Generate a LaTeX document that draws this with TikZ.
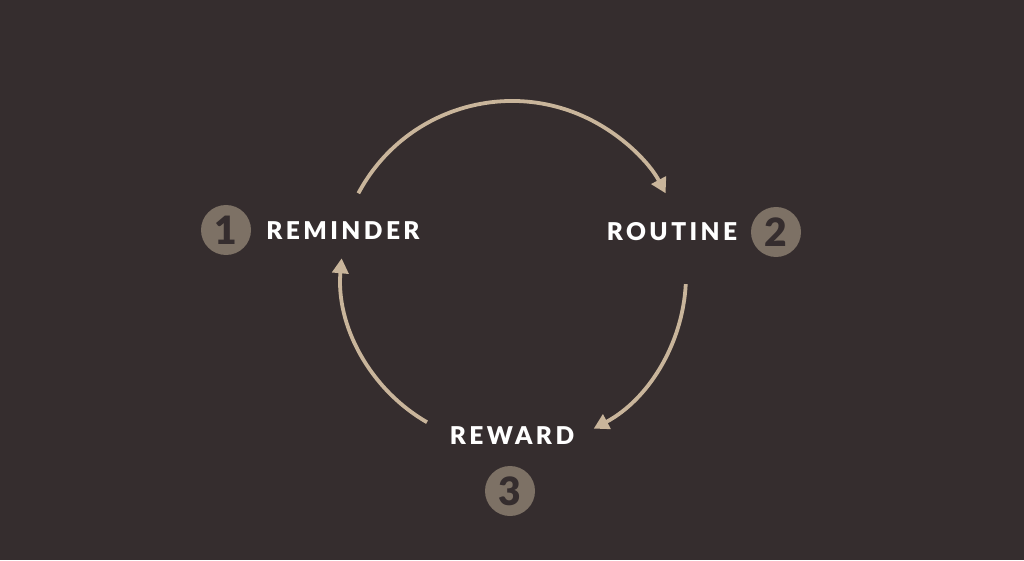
\documentclass[tikz,border=0pt]{standalone}
\usepackage{fontspec}
\setmainfont{Lato}
\newfontfamily\labfont[LetterSpace=14]{Lato Black}
\newfontfamily\numfont{Lato Black}
\usetikzlibrary{arrows.meta}
\definecolor{bg}{HTML}{352D2E}
\definecolor{arccol}{HTML}{C9B59B}
\definecolor{badge}{HTML}{7D7165}
\begin{document}
\begin{tikzpicture}[x=1pt,y=1pt,
  cyc/.style={draw=arccol,line width=3.8pt,-{Triangle[length=15pt,width=16pt]}},
  lab/.style={text=white,font=\labfont\fontsize{24.5}{24.5}\selectfont,inner sep=0pt},
  num/.style={circle,fill=badge,minimum size=50pt,inner sep=0pt,text=bg,font=\numfont\fontsize{39}{39}\selectfont}]
\fill[bg] (0,0) rectangle (1024,560);
\useasboundingbox (0,0) rectangle (1024,560);
\coordinate (c) at (512,285);
\node[lab] (reminder) at (343,329) {REMINDER};
\node[lab] (routine) at (672,328) {ROUTINE};
\node[lab] (reward) at (512,124) {REWARD};
\node[num] (n1) at (226,330) {1};
\node[num] (n2) at (776,328) {2};
\node[num] (n3) at (510,69) {3};
\coordinate (a1) at ([shift={(152:174pt)}]c);
\coordinate (a2) at ([shift={(-3:174pt)}]c);
\coordinate (a3) at ([shift={(240:170pt)}]c);
\draw[cyc] (a1) arc[start angle=152,end angle=28,radius=174pt];
\draw[cyc] (a2) arc[start angle=-3,end angle=-62,radius=174pt];
\draw[cyc] (a3) arc[start angle=240,end angle=175,radius=172pt];
\end{tikzpicture}
\end{document}
